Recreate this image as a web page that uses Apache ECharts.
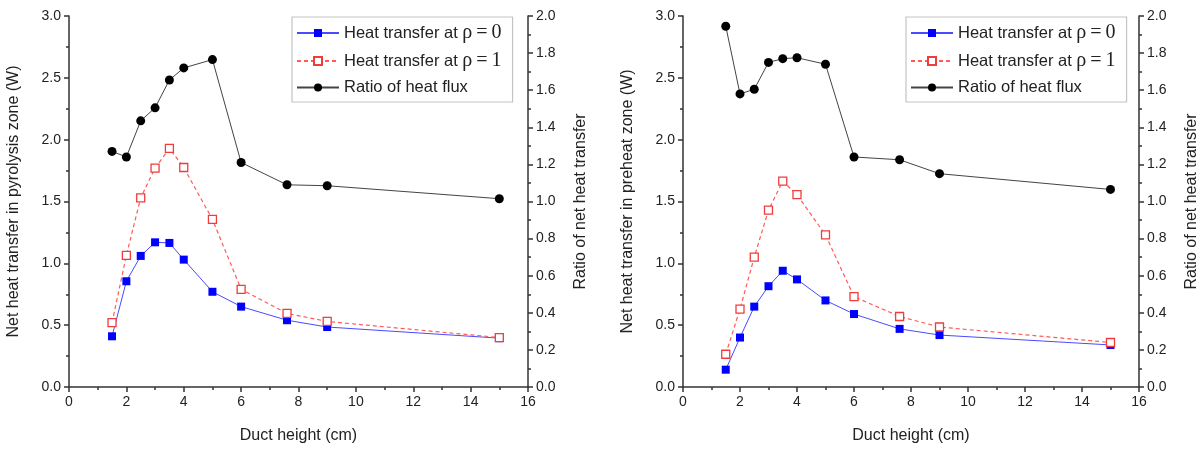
<!DOCTYPE html>
<html>
<head>
<meta charset="utf-8">
<script src="https://cdn.jsdelivr.net/npm/echarts@6/dist/echarts.min.js"></script>
<style>
  html, body { margin: 0; padding: 0; background: #fff; }
  #chart { width: 1201px; height: 449px; }
</style>
</head>
<body>
<div id="chart"></div>
<script>
// Duct heights (cm)
const ductHeight = [1.5, 2, 2.5, 3, 3.5, 4, 5, 6, 7.6, 9, 15];

// Pyrolysis zone: net heat transfer (W) and ratio
const pyroRho0 = [0.41, 0.855, 1.06, 1.17, 1.165, 1.03, 0.77, 0.65, 0.54, 0.485, 0.395];
const pyroRho1 = [0.52, 1.065, 1.53, 1.77, 1.93, 1.775, 1.355, 0.79, 0.595, 0.53, 0.40];
const pyroRatio = [1.27, 1.24, 1.435, 1.505, 1.655, 1.72, 1.765, 1.21, 1.09, 1.085, 1.015];

// Preheat zone: net heat transfer (W) and ratio
const preRho0 = [0.14, 0.40, 0.65, 0.815, 0.94, 0.87, 0.70, 0.59, 0.47, 0.42, 0.34];
const preRho1 = [0.265, 0.63, 1.05, 1.43, 1.665, 1.555, 1.23, 0.73, 0.57, 0.485, 0.36];
const preRatio = [1.945, 1.58, 1.605, 1.75, 1.77, 1.775, 1.74, 1.24, 1.225, 1.15, 1.065];

// Axis ticks
const xTicks = { min: 0, max: 16, interval: 2 };
const yLeftTicks = { min: 0, max: 3, interval: 0.5 };
const yRightTicks = { min: 0, max: 2, interval: 0.2 };

const leftTitles = ['Net heat transfer in pyrolysis zone (W)', 'Net heat transfer in preheat zone (W)'];
const rightTitle = 'Ratio of net heat transfer';
const xTitle = 'Duct height (cm)';
const names = ['Heat transfer at ρ=0', 'Heat transfer at ρ=1', 'Ratio of heat flux'];

const pair = (ys) => ductHeight.map((x, i) => [x, ys[i]]);

const axisColor = '#333';
const labelFont = { color: '#222', fontSize: 14, fontFamily: 'Liberation Sans, Arial, sans-serif' };
const nameFont = { color: '#222', fontSize: 16, fontFamily: 'Liberation Sans, Arial, sans-serif' };

function xAxisFor(gi) {
  return {
    type: 'value', gridIndex: gi, ...xTicks,
    name: xTitle, nameLocation: 'middle', nameGap: 41, nameTextStyle: nameFont,
    axisLine: { show: true, onZero: false, lineStyle: { color: axisColor, width: 1.5 } },
    axisTick: { show: true, inside: false, length: 5, lineStyle: { color: axisColor, width: 1.5 } },
    minorTick: { show: true, splitNumber: 2, length: 3, lineStyle: { color: axisColor, width: 1.5 } },
    axisLabel: { ...labelFont, margin: 8 },
    splitLine: { show: false }
  };
}
function yLeftFor(gi) {
  return {
    type: 'value', gridIndex: gi, position: 'left', ...yLeftTicks,
    name: leftTitles[gi], nameLocation: 'middle', nameGap: 47, nameTextStyle: nameFont,
    axisLine: { show: true, onZero: false, lineStyle: { color: axisColor, width: 1.5 } },
    axisTick: { show: true, inside: false, length: 5, lineStyle: { color: axisColor, width: 1.5 } },
    minorTick: { show: true, splitNumber: 2, length: 3, lineStyle: { color: axisColor, width: 1.5 } },
    axisLabel: { ...labelFont, margin: 8, formatter: v => v.toFixed(1) },
    splitLine: { show: false }
  };
}
function yRightFor(gi) {
  return {
    type: 'value', gridIndex: gi, position: 'right', ...yRightTicks,
    name: rightTitle, nameLocation: 'middle', nameGap: 45, nameRotate: 90, nameTextStyle: nameFont,
    axisLine: { show: true, onZero: false, lineStyle: { color: axisColor, width: 1.5 } },
    axisTick: { show: true, inside: false, length: 5, lineStyle: { color: axisColor, width: 1.5 } },
    minorTick: { show: true, splitNumber: 2, length: 3, lineStyle: { color: axisColor, width: 1.5 } },
    axisLabel: { ...labelFont, margin: 8, formatter: v => v.toFixed(1) },
    splitLine: { show: false }
  };
}

function seriesFor(gi, rho0, rho1, ratio) {
  return [
    {
      name: names[0], type: 'line', xAxisIndex: gi, yAxisIndex: gi * 2,
      data: pair(rho0), symbol: 'rect', symbolSize: 8,
      lineStyle: { color: '#4a4aff', width: 1 },
      itemStyle: { color: '#0000ff' }
    },
    {
      name: names[1], type: 'line', xAxisIndex: gi, yAxisIndex: gi * 2,
      data: pair(rho1), symbol: 'rect', symbolSize: 8,
      lineStyle: { color: '#ff5a5a', width: 1.2, type: [4, 3] },
      itemStyle: { color: '#ffffff', borderColor: '#f03c3c', borderWidth: 1.3 }
    },
    {
      name: names[2], type: 'line', xAxisIndex: gi, yAxisIndex: gi * 2 + 1,
      data: pair(ratio), symbol: 'circle', symbolSize: 9,
      lineStyle: { color: '#444', width: 1 },
      itemStyle: { color: '#000' }
    }
  ];
}

function legendFor(left) {
  return {
    orient: 'vertical', left: left, top: 17,
    data: names, itemWidth: 42, itemHeight: 10, itemGap: 8,
    padding: [6, 11, 6, 4],
    borderColor: '#c4c4c4', borderWidth: 1.2,
    selectedMode: false,
    formatter: (n) => {
      const m = n.match(/^(.*?)ρ=(\d)$/);
      return m ? '{s|' + m[1] + '}{g|ρ\u2009=\u2009' + m[2] + '}' : '{s|' + n + '}';
    },
    textStyle: {
      rich: {
        s: { fontSize: 16.5, color: '#222', fontFamily: 'Liberation Sans, Arial, sans-serif' },
        g: { fontSize: 20, color: '#222', fontFamily: 'Liberation Serif, Times New Roman, serif' }
      }
    }
  };
}

const chart = echarts.init(document.getElementById('chart'));
chart.setOption({
  animation: false,
  backgroundColor: '#fff',
  grid: [
    { left: 69, right: 673, top: 16, bottom: 60 },
    { left: 683, right: 59, top: 16, bottom: 60 }
  ],
  legend: [legendFor(292), legendFor(906)],
  xAxis: [xAxisFor(0), xAxisFor(1)],
  yAxis: [yLeftFor(0), yRightFor(0), yLeftFor(1), yRightFor(1)],
  series: [
    ...seriesFor(0, pyroRho0, pyroRho1, pyroRatio),
    ...seriesFor(1, preRho0, preRho1, preRatio)
  ]
});
</script>
</body>
</html>
